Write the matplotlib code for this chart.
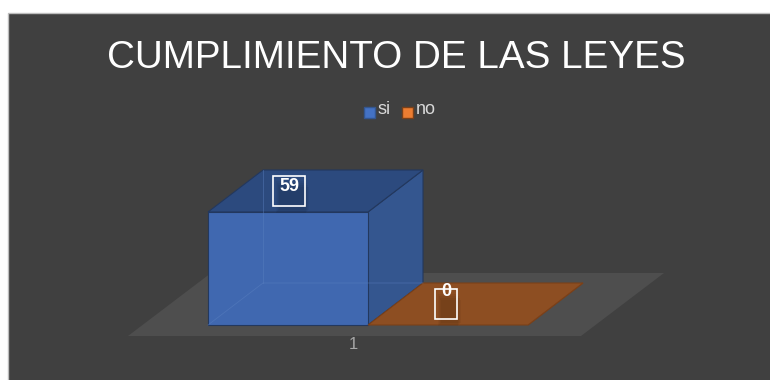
import matplotlib.pyplot as plt
from matplotlib.patches import Polygon, Rectangle

# datos del grafico
categorias = ['1']
series = ['si', 'no']
valores = [59, 0]

colores_frente = ['#4068b0', '#8a4b1f']
colores_tapa = ['#2c4a7e', '#8d4e22']
colores_lado = ['#34568f', '#7a4019']
colores_leyenda = ['#4472c4', '#ed7d31']

FONDO = '#404040'
W, H = 770, 380

fig = plt.figure(figsize=(W / 100, H / 100), dpi=100)
fig.patch.set_facecolor('white')
ax = fig.add_axes([0, 0, 1, 1])
ax.set_xlim(0, W)
ax.set_ylim(H, 0)
ax.axis('off')

# area del grafico
ax.add_patch(Rectangle((8, 13), W, H, facecolor=FONDO, edgecolor='#bdbdbd', lw=1.0))

ax.text(396, 68, 'CUMPLIMIENTO DE LAS LEYES', fontsize=27.8, color='white',
        family='Liberation Sans', ha='center', va='baseline')

# leyenda
leg_x = [364, 402]
for i, s in enumerate(series):
    ax.add_patch(Rectangle((leg_x[i], 107), 11, 11, facecolor=colores_leyenda[i],
                           edgecolor=colores_lado[i], lw=1))
    ax.text(leg_x[i] + 14, 114, s, fontsize=13, color='#d9d9d9',
            family='Liberation Sans', ha='left', va='baseline')

# piso en perspectiva
piso_x0, piso_x1, piso_y = 128, 581, 336
piso_dx, piso_dy = 83, -63
ax.add_patch(Polygon([(piso_x0, piso_y), (piso_x1, piso_y),
                      (piso_x1 + piso_dx, piso_y + piso_dy),
                      (piso_x0 + piso_dx, piso_y + piso_dy)],
                     closed=True, facecolor='#4e4e4e', edgecolor='none'))

# barras 3d
base_y = 325
x_inicio = 208
ancho = 160
dx, dy = 55, -42
escala = 113 / 59  # pixeles por unidad

for i, v in enumerate(valores):
    x0 = x_inicio + i * ancho
    x1 = x0 + ancho
    top = base_y - v * escala
    borde = '#23385e' if i == 0 else '#7a4019'
    # lado derecho
    ax.add_patch(Polygon([(x1, base_y), (x1 + dx, base_y + dy), (x1 + dx, top + dy), (x1, top)],
                         closed=True, facecolor=colores_lado[i], edgecolor=borde, lw=0.8))
    # tapa
    ax.add_patch(Polygon([(x0, top), (x1, top), (x1 + dx, top + dy), (x0 + dx, top + dy)],
                         closed=True, facecolor=colores_tapa[i], edgecolor=borde, lw=0.8))
    # frente
    if v > 0:
        ax.add_patch(Rectangle((x0, top), ancho, v * escala, facecolor=colores_frente[i],
                               edgecolor=borde, lw=0.8))
        # aristas traseras que se transparentan
        bx, by = x0 + dx, base_y + dy
        ax.plot([x0, bx, x1 + dx], [base_y, by, by], color='#5a80c0', lw=0.6, alpha=0.5)
        ax.plot([bx, bx], [by, top + dy], color='#5a80c0', lw=0.6, alpha=0.5)

    # etiqueta de valor con recuadro, centrada sobre la tapa
    cx = x0 + 80 + (1 if v > 0 else -2)
    cy = top + dy / 2
    bw = 12 + 10 * len(str(v))
    ax.add_patch(Rectangle((cx - bw / 2, cy - 15), bw, 30,
                           facecolor='none', edgecolor='white', lw=1.2, zorder=3))
    # sombra difusa debajo de la etiqueta
    for k in range(4):
        ax.add_patch(Rectangle((cx - bw / 2 + 3 + k, cy - 10 + k * 2), bw - 2, 32 - k * 3,
                               facecolor='black', edgecolor='none', alpha=0.04, zorder=1.5))
    ty = cy if v > 0 else cy - 8
    ax.text(cx, ty, str(v), fontsize=13, fontweight='bold', color='white',
            family='Liberation Sans', ha='center', va='baseline', zorder=3)

# etiqueta de categoria
ax.text(353, 349, categorias[0], fontsize=12, color='#a6a6a6',
        family='Liberation Sans', ha='center', va='baseline')

fig.savefig('out.png', dpi=100, facecolor=fig.get_facecolor())
